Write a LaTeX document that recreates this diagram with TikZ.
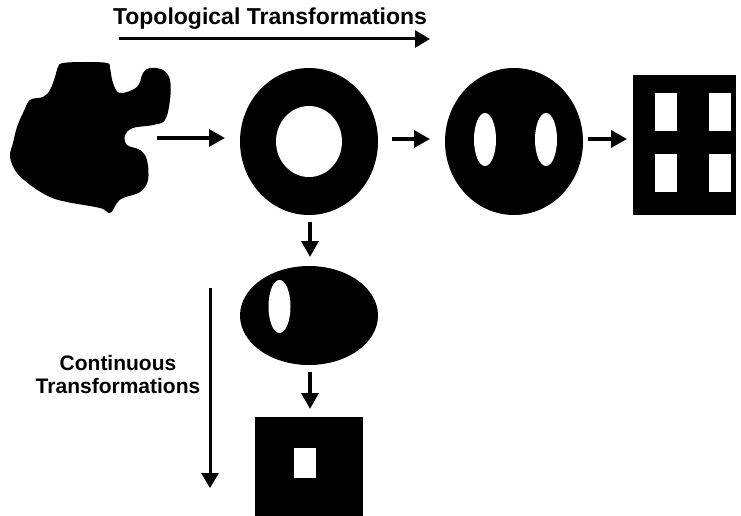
\documentclass[tikz,border=0pt]{standalone}
\usepackage{fontspec}
\setmainfont{Liberation Sans}
\usetikzlibrary{arrows.meta,shapes.geometric}
\begin{document}
\begin{tikzpicture}[x=1pt,y=-1pt,
  solid/.style={fill=black,draw=none,inner sep=0pt,outer sep=0pt},
  oval/.style={solid,ellipse},
  hole/.style={fill=white,draw=none,ellipse,inner sep=0pt,minimum width=22pt,minimum height=53pt},
  win/.style={fill=white,draw=none,inner sep=0pt},
  conn/.style={line width=3.5pt,-{Triangle[length=16pt,width=17pt]}},
  lbl/.style={font=\bfseries\fontsize{21}{23}\selectfont,align=center,inner sep=0pt}]
\useasboundingbox (0,0) rectangle (741,516);
% blob
\fill[black] plot[smooth cycle,tension=0.6] coordinates {
 (55,77) (58,67) (63,63) (85,62) (107,63) (110,68) (113,83) (120,93) (137,87)
 (143,73) (150,68) (163,70) (170,80) (170,100) (165,120) (153,125) (133,128)
 (125,135) (127,145) (140,150) (147,160) (148,180) (140,192) (123,198) (117,203)
 (110,213) (100,208) (67,202) (50,197) (33,187) (17,173) (10,157) (13,143)
 (17,127) (23,113) (30,100) (43,97) (50,90)};
\coordinate (blob) at (157,138);
\coordinate (row) at (0,139);
% ring
\node[oval,minimum width=138pt,minimum height=147pt] (ring) at (309,141.5) {};
\node[fill=white,ellipse,inner sep=0pt,minimum width=66pt,minimum height=71pt] (ringhole) at (309,141.5) {};
% two holes
\node[oval,minimum width=138pt,minimum height=147pt] (eyes) at (514,141.5) {};
\node[hole] (eyeL) at (485,139.5) {};
\node[hole] (eyeR) at (546,139.5) {};
% four windows
\node[solid,minimum width=103pt,minimum height=140pt] (grid) at (684.5,145) {};
\node[win,minimum width=22pt,minimum height=38pt] (w1) at (666,112) {};
\node[win,minimum width=22pt,minimum height=38pt] (w2) at (720,112) {};
\node[win,minimum width=22pt,minimum height=38pt] (w3) at (666,172.5) {};
\node[win,minimum width=22pt,minimum height=38pt] (w4) at (720,172.5) {};
% ellipse with one hole
\node[oval,minimum width=138pt,minimum height=99pt] (oneeye) at (309,315.5) {};
\node[hole] (eye1) at (279.5,306.5) {};
% square with one hole
\node[solid,minimum width=108pt,minimum height=99pt] (square) at (309,466.5) {};
\node[win,minimum width=22pt,minimum height=30pt] (sq1) at (305,463) {};
% connectors
\draw[conn,shorten >=15pt] (blob) -- (blob -| ring.west);
\draw[conn,shorten <=14pt,shorten >=15pt] (ring.east |- row) -- (eyes.west |- row);
\draw[conn,shorten <=5pt,shorten >=6pt] (eyes.east |- row) -- (grid.west |- row);
\draw[conn,shorten <=7pt,shorten >=9pt] ([xshift=1pt]ring.south) -- ([xshift=1pt]oneeye.north);
\draw[conn,shorten <=7pt,shorten >=8pt] ([xshift=1pt]oneeye.south) -- ([xshift=1pt]square.north);
% labels
\node[lbl,font=\bfseries\fontsize{23}{26}\selectfont,anchor=base] (topo) at (270,25) {Topological Transformations};
\coordinate (ts) at (119,39);
\coordinate (te) at (430,39);
\draw[line width=3pt,-{Triangle[length=15pt,width=17pt]}] (ts) -- (te);
\node[lbl] (cont) at (118,374) {Continuous\\Transformations};
\coordinate (cs) at (210,288);
\coordinate (ce) at (210,488);
\draw[line width=3pt,-{Triangle[length=15pt,width=17pt]}] (cs) -- (ce);
\end{tikzpicture}
\end{document}
